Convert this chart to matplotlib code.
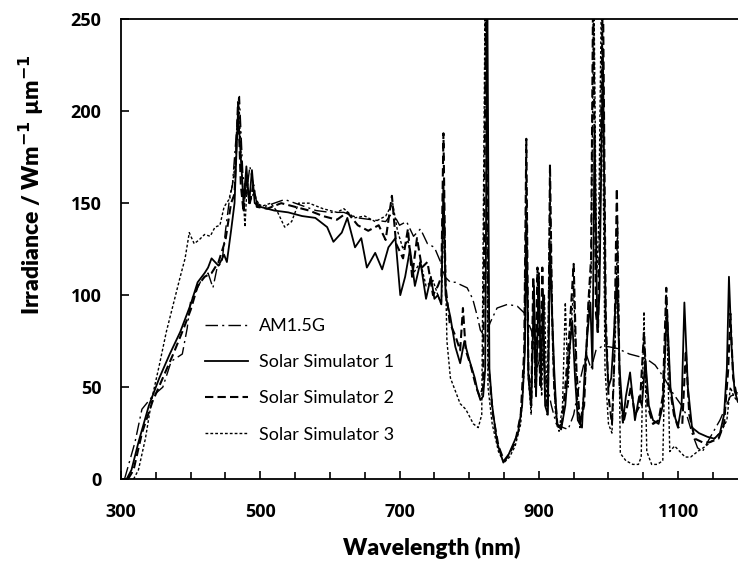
import matplotlib
matplotlib.use("Agg")
import matplotlib.pyplot as plt
from matplotlib.ticker import MultipleLocator, FixedLocator

plt.rcParams['font.family'] = ['Lato', 'DejaVu Sans']

# ---- data ----
am15g_wl = [305, 320, 330, 345, 360, 372, 388, 395, 400, 405, 415, 425, 432, 438, 445, 450, 455, 460,
            465, 470, 475, 480, 485, 490, 495, 505, 520, 535, 550, 565, 580, 600, 620, 640, 660, 680,
            690, 700, 710, 720, 730, 740, 750, 760, 765, 773, 780, 797, 805, 812, 816, 823, 830, 840,
            855, 869, 880, 890, 897, 905, 910, 918, 925, 935, 942, 950, 960, 968, 975, 982, 990, 1000,
            1013, 1030, 1050, 1056, 1067, 1080, 1092, 1105, 1113, 1120, 1128, 1135, 1145, 1160, 1175, 1186]
am15g_val = [0, 20, 38, 45, 50, 64, 68, 82, 97, 100, 108, 112, 104, 115, 118, 135, 150, 160,
             185, 208, 165, 155, 170, 160, 150, 148, 150, 152, 150, 148, 146, 145, 145, 142, 141, 140,
             145, 138, 140, 132, 136, 128, 126, 117, 110, 107, 107, 104, 98, 88, 81, 77, 85, 93,
             95, 94, 90, 80, 60, 70, 55, 40, 30, 28, 27, 35, 55, 68, 60, 70, 72, 72,
             71, 68, 66, 65, 62, 55, 47, 40, 34, 25, 17, 15, 22, 32, 45, 47]

ss1_wl = [308, 315, 325, 340, 355, 370, 385, 400, 410, 420, 425, 430, 435, 440, 448, 452, 458, 463,
          468, 472, 476, 480, 484, 488, 492, 500, 520, 540, 560, 579, 596, 605, 617, 625, 636, 645,
          653, 665, 675, 684, 694, 701, 708, 715, 722, 730, 738, 745, 750, 755, 760, 763, 766, 773,
          780, 787, 793, 800, 808, 812, 816, 820, 823, 826, 829, 833, 840, 849, 855, 862, 870, 876,
          880, 882, 885, 889, 893, 896, 900, 903, 906, 909, 913, 916, 919, 922, 926, 932, 938, 944,
          948, 952, 956, 962, 966, 970, 974, 977, 980, 984, 987, 992, 996, 1000, 1004, 1008, 1012,
          1016, 1021, 1025, 1031, 1038, 1044, 1048, 1053, 1058, 1064, 1072, 1078, 1084, 1089, 1096,
          1100, 1105, 1109, 1114, 1120, 1130, 1142, 1152, 1160, 1166, 1170, 1173, 1177, 1181, 1186]
ss1_val = [0, 5, 20, 40, 55, 68, 80, 95, 107, 112, 115, 120, 118, 116, 122, 118, 135, 150,
           200, 175, 150, 170, 150, 168, 150, 148, 146, 145, 143, 142, 137, 129, 134, 142, 126, 131,
           115, 123, 114, 126, 131, 100, 110, 125, 105, 118, 98, 110, 98, 100, 95, 162, 100, 88,
           72, 63, 75, 65, 55, 48, 43, 45, 60, 265, 60, 40, 20, 9, 12, 18, 25, 40,
           70, 145, 55, 40, 105, 45, 112, 50, 100, 40, 35, 126, 90, 60, 30, 27, 40, 70,
           86, 55, 32, 28, 60, 80, 96, 60, 191, 80, 100, 234, 80, 50, 55, 80, 110,
           60, 32, 45, 58, 32, 45, 40, 65, 40, 32, 30, 40, 92, 50, 33,
           29, 40, 96, 50, 28, 25, 23, 22, 25, 35, 60, 110, 70, 48, 42]

ss2_wl = [310, 318, 330, 345, 360, 375, 390, 400, 410, 420, 430, 440, 450, 458, 463, 468, 472, 476,
          480, 485, 490, 495, 510, 530, 550, 570, 590, 610, 625, 640, 655, 670, 680, 689, 695, 705,
          712, 718, 725, 732, 740, 748, 755, 760, 763, 766, 772, 780, 787, 791, 795, 802, 810, 815,
          820, 824, 828, 834, 842, 850, 858, 866, 874, 879, 882, 885, 889, 892, 895, 898, 902, 905,
          909, 913, 916, 919, 922, 927, 933, 938, 944, 950, 954, 959, 965, 971, 975, 978, 982, 985,
          988, 992, 996, 1000, 1005, 1008, 1012, 1016, 1021, 1027, 1032, 1038, 1045, 1051, 1056,
          1064, 1072, 1078, 1083, 1088, 1094, 1100, 1106, 1111, 1116, 1124, 1135, 1145, 1158, 1166,
          1172, 1175, 1179, 1186]
ss2_val = [0, 5, 25, 42, 55, 68, 82, 92, 105, 110, 112, 118, 130, 150, 155, 205, 160, 145,
           165, 150, 160, 148, 147, 150, 148, 146, 143, 141, 145, 138, 135, 138, 130, 154, 128, 120,
           136, 110, 131, 115, 118, 100, 105, 110, 188, 105, 85, 78, 70, 93, 70, 62, 50, 45,
           50, 270, 60, 35, 18, 10, 14, 20, 35, 70, 185, 60, 40, 110, 50, 115, 50, 115,
           45, 40, 171, 90, 50, 28, 30, 50, 80, 117, 60, 30, 40, 95, 120, 270, 90, 80,
           150, 270, 90, 45, 30, 60, 158, 50, 30, 40, 50, 35, 40, 80, 40,
           30, 32, 45, 104, 50, 35, 28, 30, 70, 35, 22, 20, 20, 22, 30,
           60, 90, 55, 42]

ss3_wl = [318, 325, 335, 345, 355, 365, 375, 385, 392, 398, 405, 412, 420, 428, 435, 442, 448, 455,
          460, 465, 469, 473, 478, 481, 484, 490, 500, 515, 525, 535, 545, 555, 570, 590, 610, 620,
          635, 650, 665, 680, 690, 697, 705, 712, 720, 730, 738, 748, 755, 760, 764, 768, 773, 780,
          787, 795, 806, 813, 818, 823, 827, 833, 842, 850, 858, 866, 874, 879, 882, 885, 889, 893,
          896, 900, 904, 908, 912, 916, 920, 924, 929, 934, 938, 942, 946, 950, 954, 959, 966, 971,
          975, 979, 983, 986, 990, 995, 1000, 1005, 1010, 1013, 1017, 1025, 1035, 1043, 1047, 1051,
          1055, 1062, 1070, 1078, 1083, 1088, 1095, 1100, 1110, 1118, 1128, 1140, 1152, 1162, 1170,
          1175, 1180, 1186]
ss3_val = [0, 5, 22, 45, 62, 80, 95, 110, 120, 134, 128, 130, 133, 132, 137, 138, 148, 152,
           160, 175, 208, 170, 137, 160, 150, 155, 148, 150, 145, 137, 140, 150, 150, 147, 145, 147,
           142, 143, 140, 143, 150, 135, 125, 130, 112, 118, 105, 108, 100, 95, 150, 75, 55, 48,
           41, 38, 30, 28, 35, 270, 50, 30, 15, 9, 12, 18, 30, 60, 175, 55, 35, 100,
           45, 112, 45, 100, 35, 160, 70, 35, 26, 40, 96, 50, 80, 105, 50, 28, 50, 90,
           110, 270, 110, 140, 270, 60, 30, 25, 80, 140, 14, 10, 8, 8, 12, 91,
           15, 8, 8, 10, 100, 15, 18, 16, 12, 12, 15, 18, 22, 26, 32,
           50, 45, 42]

x_ticks = [300, 500, 700, 900, 1100]

series = [
    ("AM1.5G", am15g_wl, am15g_val, (0, (9, 3, 1.5, 3)), 1.0),
    ("Solar Simulator 1", ss1_wl, ss1_val, "-", 1.3),
    ("Solar Simulator 2", ss2_wl, ss2_val, (0, (4, 2)), 1.5),
    ("Solar Simulator 3", ss3_wl, ss3_val, (0, (2, 1.5)), 1.0),
]

fig = plt.figure(figsize=(7.38, 5.65), dpi=100)
ax = fig.add_axes([0.164, 0.152, 0.836, 0.814])

for label, wl, val, ls, lw in series:
    ax.plot(wl, val, color="black", linestyle=ls, linewidth=lw, label=label)

ax.set_xlim(300, 1186)
ax.set_ylim(0, 250)
ax.xaxis.set_major_locator(FixedLocator(x_ticks))
ax.xaxis.set_minor_locator(MultipleLocator(50))
ax.yaxis.set_major_locator(MultipleLocator(50))
ax.tick_params(axis="both", which="both", direction="in", top=False, right=False)
ax.tick_params(axis="x", which="major", length=6, width=1.2, pad=17)
ax.tick_params(axis="x", which="minor", length=5, width=1.2)
ax.tick_params(axis="y", which="major", length=6, width=1.2, pad=14)
for lbl in ax.get_xticklabels() + ax.get_yticklabels():
    lbl.set_fontweight("bold")
    lbl.set_fontfamily(["Open Sans", "DejaVu Sans"])
    lbl.set_fontsize(13)

ax.spines["right"].set_visible(False)
for s in ["left", "bottom", "top"]:
    ax.spines[s].set_linewidth(1.3)

ax.set_xlabel("Wavelength (nm)", fontsize=16.5, fontweight="heavy")
ax.xaxis.set_label_coords(0.503, -0.126)
ax.set_ylabel("Irradiance / Wm$^{\\mathbf{-1}}$ \u00b5m$^{\\mathbf{-1}}$", fontsize=16.5,
              fontweight="heavy")
ax.yaxis.set_label_coords(-0.122, 0.64)

ax.legend(loc="center left", bbox_to_anchor=(0.11, 0.215), frameon=False, fontsize=13,
          handlelength=2.4, handletextpad=0.6, labelspacing=1.12)

fig.savefig("out.png", dpi=100)
